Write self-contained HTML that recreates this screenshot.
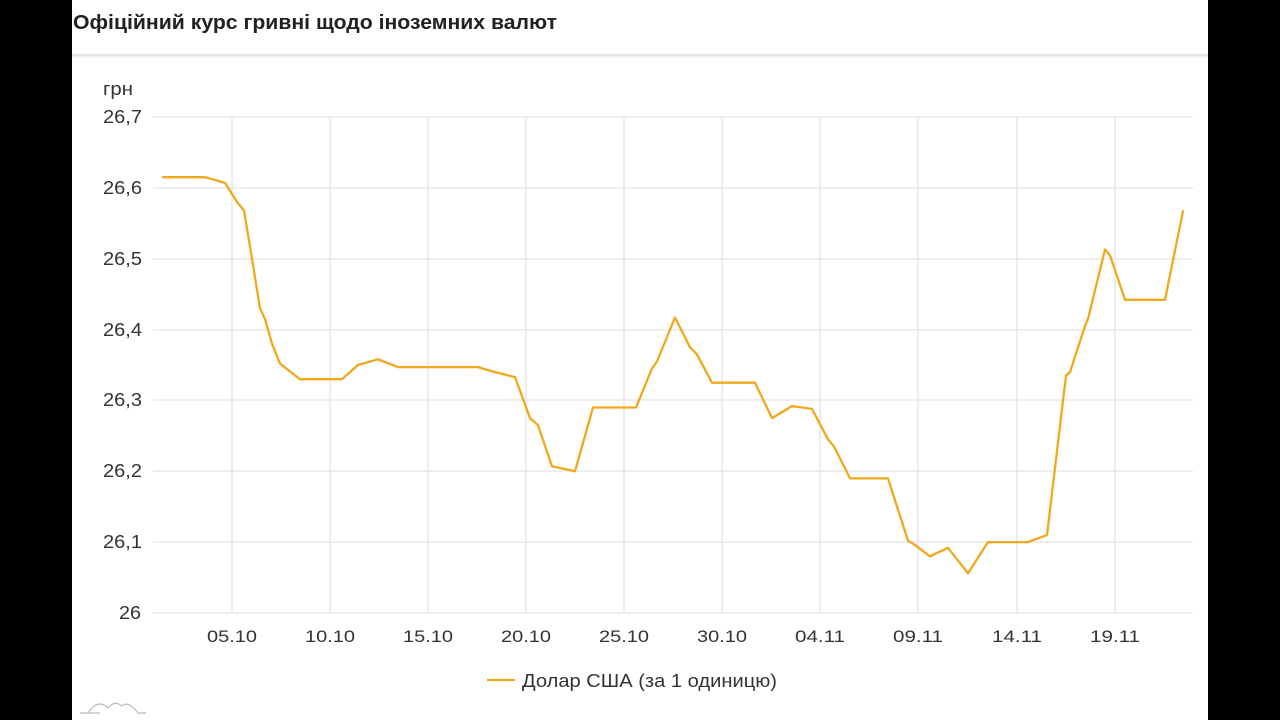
<!DOCTYPE html>
<html><head><meta charset="utf-8"><style>
html,body{margin:0;padding:0;background:#000;width:1280px;height:720px;overflow:hidden}
</style></head><body>
<svg width="1280" height="720" xmlns="http://www.w3.org/2000/svg" style="position:absolute;left:0;top:0;font-family:'Liberation Sans',sans-serif">
<rect x="0" y="0" width="1280" height="720" fill="#000"/>
<rect x="72" y="0" width="1136" height="720" fill="#fff"/>
<text x="73" y="29" font-size="20" font-weight="bold" fill="#222" textLength="484" lengthAdjust="spacingAndGlyphs">Офіційний курс гривні щодо іноземних валют</text>
<rect x="72" y="54" width="1136" height="2" fill="#e6e6e6"/>
<rect x="72" y="56" width="1136" height="2" fill="#f3f3f3"/>
<g stroke="#e3e3e3" stroke-width="1.3">
<line x1="153" x2="1193" y1="117" y2="117"/><line x1="153" x2="1193" y1="188" y2="188"/>
<line x1="153" x2="1193" y1="259" y2="259"/><line x1="153" x2="1193" y1="330" y2="330"/>
<line x1="153" x2="1193" y1="400" y2="400"/><line x1="153" x2="1193" y1="471" y2="471"/>
<line x1="153" x2="1193" y1="542" y2="542"/><line x1="153" x2="1193" y1="613" y2="613"/>
<line x1="232" x2="232" y1="117" y2="613"/><line x1="330" x2="330" y1="117" y2="613"/>
<line x1="428" x2="428" y1="117" y2="613"/><line x1="526" x2="526" y1="117" y2="613"/>
<line x1="624" x2="624" y1="117" y2="613"/><line x1="722" x2="722" y1="117" y2="613"/>
<line x1="820" x2="820" y1="117" y2="613"/><line x1="918" x2="918" y1="117" y2="613"/>
<line x1="1017" x2="1017" y1="117" y2="613"/><line x1="1115" x2="1115" y1="117" y2="613"/>
</g>
<g font-size="18" fill="#333">
<text x="103" y="95" textLength="30" lengthAdjust="spacingAndGlyphs">грн</text>
<text x="103" y="123" textLength="39" lengthAdjust="spacingAndGlyphs">26,7</text>
<text x="103" y="194" textLength="39" lengthAdjust="spacingAndGlyphs">26,6</text>
<text x="103" y="265" textLength="39" lengthAdjust="spacingAndGlyphs">26,5</text>
<text x="103" y="336" textLength="39" lengthAdjust="spacingAndGlyphs">26,4</text>
<text x="103" y="406" textLength="39" lengthAdjust="spacingAndGlyphs">26,3</text>
<text x="103" y="477" textLength="39" lengthAdjust="spacingAndGlyphs">26,2</text>
<text x="103" y="548" textLength="39" lengthAdjust="spacingAndGlyphs">26,1</text>
<text x="119" y="619" textLength="22" lengthAdjust="spacingAndGlyphs">26</text>
</g>
<g font-size="17" fill="#333">
<text x="207" y="642" textLength="50" lengthAdjust="spacingAndGlyphs">05.10</text>
<text x="305" y="642" textLength="50" lengthAdjust="spacingAndGlyphs">10.10</text>
<text x="403" y="642" textLength="50" lengthAdjust="spacingAndGlyphs">15.10</text>
<text x="501" y="642" textLength="50" lengthAdjust="spacingAndGlyphs">20.10</text>
<text x="599" y="642" textLength="50" lengthAdjust="spacingAndGlyphs">25.10</text>
<text x="697" y="642" textLength="50" lengthAdjust="spacingAndGlyphs">30.10</text>
<text x="795" y="642" textLength="50" lengthAdjust="spacingAndGlyphs">04.11</text>
<text x="893" y="642" textLength="50" lengthAdjust="spacingAndGlyphs">09.11</text>
<text x="992" y="642" textLength="50" lengthAdjust="spacingAndGlyphs">14.11</text>
<text x="1090" y="642" textLength="50" lengthAdjust="spacingAndGlyphs">19.11</text>
</g>
<polyline fill="none" stroke="#f0a81c" stroke-width="2.3" stroke-linejoin="round" stroke-linecap="round" points="163,177.2 205,177.2 225,182.9 237,202 244,210.5 252,258.7 260,308.3 265,319 272,343.7 280,363.6 300,379.2 342,379.2 358,365 378,359.3 398,367.1 478,367.1 495,372.1 515,377.1 530,418.1 538,425.2 552,466.3 575,471.3 593,407.5 636,407.5 652,368.5 657,361.5 675,317.5 690,347.3 697,354.4 712,382.7 755,382.7 772,418.1 792,406.1 812,408.9 828,439.4 834,446.5 850,478.4 888,478.4 908,540.7 914,544.3 930,556.3 948,547.8 968,573.3 988,542.1 1028,542.1 1047,535.1 1066,375.6 1070,372.1 1085,326 1088,319 1105,249.5 1110,255.2 1125,299.8 1165,299.8 1183,211.2"/>
<line x1="487" x2="515" y1="680" y2="680" stroke="#f0a81c" stroke-width="2.3"/>
<text x="522" y="687" font-size="18" fill="#333" textLength="255" lengthAdjust="spacingAndGlyphs">Долар США (за 1 одиницю)</text>
<path d="M80,713 L100,713 M88,713 Q98,698 108,708 Q114,700 122,706 Q128,700 138,713 L146,713" fill="none" stroke="#bbb" stroke-width="1.2"/>
</svg>
</body></html>
